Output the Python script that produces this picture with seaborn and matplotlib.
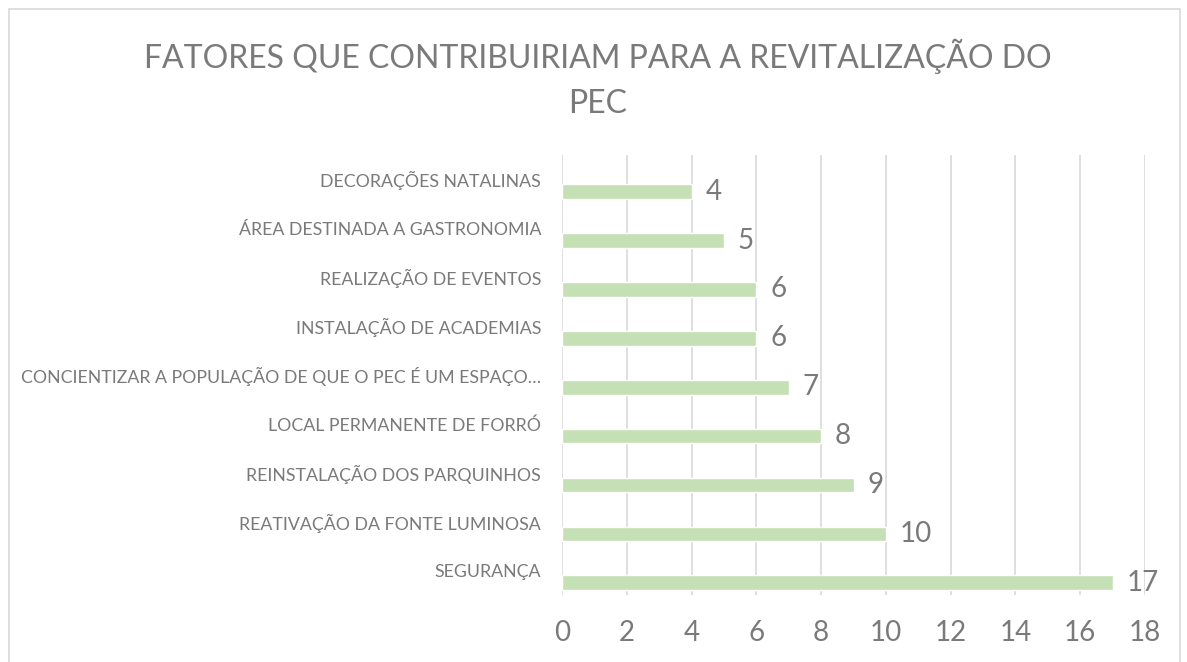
import matplotlib
matplotlib.use("Agg")
import matplotlib.pyplot as plt
import matplotlib.patches as mpatches
import seaborn as sns

categories = [
    "DECORAÇÕES NATALINAS",
    "ÁREA DESTINADA A GASTRONOMIA",
    "REALIZAÇÃO DE EVENTOS",
    "INSTALAÇÃO DE ACADEMIAS",
    "CONCIENTIZAR A POPULAÇÃO DE QUE O PEC É UM ESPAÇO…",
    "LOCAL PERMANENTE DE FORRÓ",
    "REINSTALAÇÃO DOS PARQUINHOS",
    "REATIVAÇÃO DA FONTE LUMINOSA",
    "SEGURANÇA",
]
values = [4, 5, 6, 6, 7, 8, 9, 10, 17]
x_ticks = [0, 2, 4, 6, 8, 10, 12, 14, 16, 18]

title = "FATORES QUE CONTRIBUIRIAM PARA A REVITALIZAÇÃO DO\nPEC"

sns.set_style("white")
plt.rcParams["font.family"] = ["Lato", "DejaVu Sans"]

GREY = "#7A7A7A"
BAR = "#C5E0B4"

fig = plt.figure(figsize=(11.87, 6.62), dpi=100)
ax = fig.add_axes([562 / 1187, 1 - 595 / 662, (1145 - 562) / 1187, (595 - 155) / 662])

sns.barplot(x=values, y=categories, orient="h", color=BAR, width=0.3,
            saturation=1, ax=ax)

# Excel-style: labels sit above the bars
ax.set_ylim(len(categories) - 0.75, -0.75)
ax.set_yticks([i - 0.25 for i in range(len(categories))])
ax.set_yticklabels(categories, fontsize=12.8, color=GREY)
ax.set_xlim(0, 18)
ax.set_xticks(x_ticks)
ax.set_xticklabels([str(t) for t in x_ticks], fontsize=20, color=GREY)
ax.tick_params(axis="x", length=0, pad=18)
ax.tick_params(axis="y", length=0, pad=15)
ax.set_xlabel("")
ax.set_ylabel("")
ax.grid(axis="x", color="#D9D9D9", linewidth=1.2)
ax.set_axisbelow(True)
for s in ax.spines.values():
    s.set_visible(False)

ax.bar_label(ax.containers[0], padding=10, fontsize=20, color=GREY)

fig.text(598 / 1187, 1 - 79 / 662, title, ha="center", va="center",
         fontsize=23, color=GREY, linespacing=1.6)

fig.patches.append(mpatches.Rectangle((9 / 1187, -0.05), (1180 - 9) / 1187, 1.05 - 9 / 662,
                                      transform=fig.transFigure, fill=False,
                                      edgecolor="#D9D9D9", linewidth=1.2))

fig.savefig("out.png", dpi=100)
